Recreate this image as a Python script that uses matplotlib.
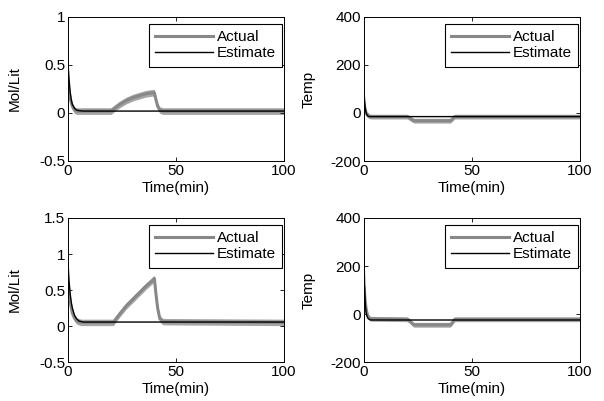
import matplotlib
matplotlib.use("Agg")
import matplotlib.pyplot as plt
import numpy as np

plt.rcParams["font.family"] = ["Liberation Sans", "DejaVu Sans"]

# time samples (min) for the traced curves
t_act_c = [0, 0.5, 1, 2, 3, 4, 6, 20, 21, 24, 27, 30, 33, 36, 39, 40, 40.7, 41.5, 42.5, 44, 100]
t_est_c = [0, 0.5, 1, 1.5, 2, 3, 4, 5, 7, 100]
t_act_T = [0, 0.5, 1, 1.5, 2, 3, 20, 21, 23, 40, 41, 42, 100]
t_est_T = [0, 0.3, 0.6, 1, 1.5, 2, 3, 100]

# top-left: concentration, case 1
conc1_actual = [0.30, 0.22, 0.15, 0.07, 0.03, 0.02, 0.02, 0.02, 0.04, 0.09, 0.13, 0.16, 0.18, 0.20, 0.21, 0.21, 0.14, 0.07, 0.03, 0.02, 0.02]
conc1_est = [0.52, 0.35, 0.22, 0.14, 0.09, 0.05, 0.03, 0.025, 0.02, 0.02]
conc1_noise = 0.035

# bottom-left: concentration, case 2
conc2_actual = [0.60, 0.45, 0.33, 0.18, 0.11, 0.07, 0.05, 0.05, 0.05, 0.17, 0.28, 0.37, 0.46, 0.55, 0.63, 0.66, 0.45, 0.25, 0.10, 0.06, 0.05]
conc2_est = [0.88, 0.62, 0.45, 0.33, 0.25, 0.15, 0.10, 0.07, 0.055, 0.055]
conc2_noise = 0.045

# top-right: temperature, case 1
temp1_actual = [40, 15, 0, -8, -12, -15, -15, -20, -32, -32, -24, -15, -15]
temp1_est = [92, 50, 20, 0, -10, -14, -15, -15]
temp1_noise = 10

# bottom-right: temperature, case 2
temp2_actual = [110, 60, 20, 0, -12, -20, -22, -28, -45, -45, -35, -22, -22]
temp2_est = [242, 120, 40, 5, -12, -20, -25, -25]
temp2_noise = 10

panels = [
    (0, 0, t_act_c, conc1_actual, conc1_noise, t_est_c, conc1_est, (-0.5, 1), [-0.5, 0, 0.5, 1], ["-0.5", "0", "0.5", "1"], "Mol/Lit"),
    (0, 1, t_act_T, temp1_actual, temp1_noise, t_est_T, temp1_est, (-200, 400), [-200, 0, 200, 400], ["-200", "0", "200", "400"], "Temp"),
    (1, 0, t_act_c, conc2_actual, conc2_noise, t_est_c, conc2_est, (-0.5, 1.5), [-0.5, 0, 0.5, 1, 1.5], ["-0.5", "0", "0.5", "1", "1.5"], "Mol/Lit"),
    (1, 1, t_act_T, temp2_actual, temp2_noise, t_est_T, temp2_est, (-200, 400), [-200, 0, 200, 400], ["-200", "0", "200", "400"], "Temp"),
]

fig = plt.figure(figsize=(6.04, 4.01), dpi=100)
lefts = [68 / 604, 364 / 604]
bottoms = [1 - 161 / 401, 1 - 362 / 401]
w, h = 216 / 604, 144 / 401

for r, c, ta, ya, noise, te, ye, ylim, yt, ytl, ylab in panels:
    ax = fig.add_axes([lefts[c], bottoms[r], w, h])
    ya = np.array(ya)
    ax.fill_between(ta, ya - noise, ya + noise, color="#a6a6a6", lw=0)
    ax.plot(ta, ya, color="#888888", lw=2.2, label="Actual")
    ax.plot(te, ye, color="black", lw=1.0, label="Estimate")
    ax.set_xlim(0, 100)
    ax.set_ylim(*ylim)
    ax.set_xticks([0, 50, 100])
    ax.set_yticks(yt)
    ax.set_yticklabels(ytl)
    ax.tick_params(direction="in", top=True, right=True, length=3, width=0.6, labelsize=11, pad=2)
    for s in ax.spines.values():
        s.set_linewidth(0.7)
    ax.set_xlabel("Time(min)", fontsize=11, labelpad=2)
    ax.set_ylabel(ylab, fontsize=11)
    ax.yaxis.set_label_coords(-0.215 if c == 0 else -0.225, 0.5)
    leg = ax.legend(loc="upper right", bbox_to_anchor=(0.99, 0.951), borderaxespad=0,
                    fancybox=False, framealpha=1, edgecolor="black", fontsize=11,
                    handlelength=3.8, handletextpad=0.25, borderpad=0.4, labelspacing=0.15)
    leg.get_frame().set_linewidth(0.8)

fig.savefig("out.png", dpi=100)
